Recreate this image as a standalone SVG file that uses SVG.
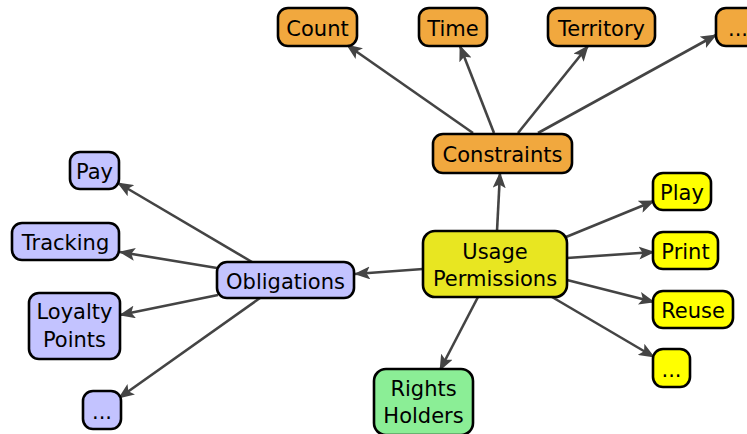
<svg xmlns="http://www.w3.org/2000/svg" width="747" height="434" viewBox="0 0 747 434">
  <defs>
    <marker id="arrow" markerUnits="userSpaceOnUse" markerWidth="16" markerHeight="13" refX="15" refY="6.5" orient="auto">
      <path d="M0,0 L16,6.5 L0,13 L3.5,6.5 Z" fill="#444"/>
    </marker>
    <style>
      .box { stroke: #000; stroke-width: 2.6; }
      .orange { fill: #F1A83E; }
      .lav { fill: #C3C3FF; }
      .center { fill: #E8E621; }
      .yellow { fill: #FFFF00; }
      .green { fill: #8BEE96; }
      text { font-family: "DejaVu Sans", "Liberation Sans", sans-serif; font-size: 21px; fill: #000; text-anchor: middle; }
      .edge { stroke: #444; stroke-width: 2.6; fill: none; marker-end: url(#arrow); }
    </style>
  </defs>
  <rect width="747" height="434" fill="#fff"/>

  <!-- connectors -->
  <g id="edges">
    <line class="edge" x1="473" y1="133" x2="347" y2="45"/>
    <line class="edge" x1="494" y1="133" x2="460" y2="46"/>
    <line class="edge" x1="518" y1="133" x2="588" y2="46"/>
    <line class="edge" x1="538" y1="133" x2="716" y2="35"/>
    <line class="edge" x1="497" y1="231" x2="500" y2="173"/>
    <line class="edge" x1="423" y1="269" x2="355" y2="274"/>
    <line class="edge" x1="478" y1="297" x2="440" y2="370"/>
    <line class="edge" x1="566" y1="237" x2="654" y2="201"/>
    <line class="edge" x1="567" y1="258" x2="654" y2="252"/>
    <line class="edge" x1="567" y1="280" x2="654" y2="302"/>
    <line class="edge" x1="552" y1="297" x2="654" y2="357"/>
    <line class="edge" x1="252" y1="262" x2="118" y2="183"/>
    <line class="edge" x1="217" y1="268" x2="120" y2="252"/>
    <line class="edge" x1="218" y1="295" x2="120" y2="315"/>
    <line class="edge" x1="260" y1="298" x2="119" y2="398"/>
  </g>

  <!-- constraint nodes -->
  <g id="count"><rect class="box orange" x="278" y="8" width="79" height="38" rx="10"/><text x="317.5" y="36">Count</text></g>
  <g id="time"><rect class="box orange" x="419" y="8" width="68" height="38" rx="10"/><text x="453" y="36">Time</text></g>
  <g id="territory"><rect class="box orange" x="548" y="8" width="107" height="38" rx="10"/><text x="601.5" y="36">Territory</text></g>
  <g id="constraint-more"><rect class="box orange" x="716" y="8" width="44" height="38" rx="10"/><text x="738" y="36">...</text></g>
  <g id="constraints"><rect class="box orange" x="433" y="134" width="139" height="39" rx="10"/><text x="502.5" y="162">Constraints</text></g>

  <!-- obligation nodes -->
  <g id="pay"><rect class="box lav" x="70" y="152" width="49" height="37" rx="10"/><text x="94.5" y="179">Pay</text></g>
  <g id="tracking"><rect class="box lav" x="12" y="223" width="107" height="37" rx="10"/><text x="65.5" y="250">Tracking</text></g>
  <g id="loyalty"><rect class="box lav" x="29" y="293" width="91" height="66" rx="10"/><text x="74.5" y="319">Loyalty</text><text x="74.5" y="347">Points</text></g>
  <g id="obligation-more"><rect class="box lav" x="83" y="391" width="38" height="38" rx="10"/><text x="102" y="419">...</text></g>
  <g id="obligations"><rect class="box lav" x="217" y="262" width="137" height="36" rx="10"/><text x="285.5" y="289">Obligations</text></g>

  <!-- central node -->
  <g id="usage"><rect class="box center" x="423" y="231" width="144" height="66" rx="12"/><text x="495" y="259">Usage</text><text x="495" y="286">Permissions</text></g>

  <!-- permission nodes -->
  <g id="play"><rect class="box yellow" x="653" y="173" width="58" height="37" rx="10"/><text x="682" y="200">Play</text></g>
  <g id="print"><rect class="box yellow" x="653" y="232" width="65" height="37" rx="10"/><text x="685.5" y="259">Print</text></g>
  <g id="reuse"><rect class="box yellow" x="653" y="291" width="80" height="37" rx="10"/><text x="693" y="318">Reuse</text></g>
  <g id="permission-more"><rect class="box yellow" x="653" y="349" width="37" height="38" rx="10"/><text x="671.5" y="377">...</text></g>

  <!-- holders -->
  <g id="rights-holders"><rect class="box green" x="374" y="369" width="99" height="66" rx="12"/><text x="423.5" y="396">Rights</text><text x="423.5" y="423">Holders</text></g>
</svg>
